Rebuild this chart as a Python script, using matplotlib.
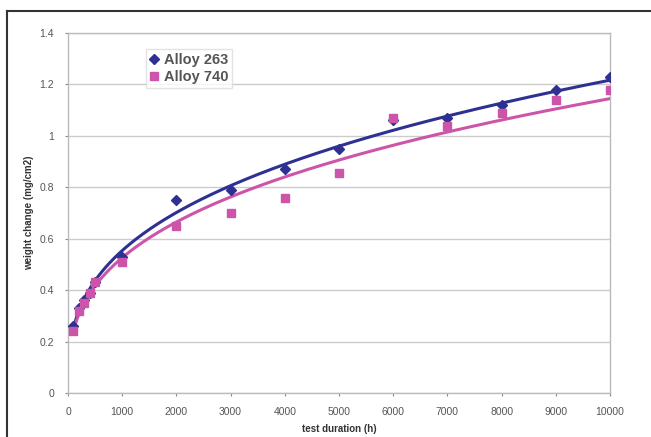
import numpy as np
import matplotlib
matplotlib.use("Agg")
import matplotlib.pyplot as plt
from matplotlib.lines import Line2D

plt.rcParams['font.family'] = ['Liberation Sans', 'DejaVu Sans']

hours = [100, 200, 300, 400, 500, 1000, 2000, 3000, 4000, 5000, 6000, 7000, 8000, 9000, 10000]
alloy263 = [0.26, 0.33, 0.36, 0.39, 0.43, 0.53, 0.75, 0.79, 0.87, 0.95, 1.06, 1.07, 1.12, 1.18, 1.23]
alloy740 = [0.24, 0.32, 0.35, 0.39, 0.43, 0.51, 0.65, 0.70, 0.76, 0.855, 1.07, 1.04, 1.09, 1.14, 1.18]
series_names = ["Alloy 263", "Alloy 740"]
x_ticks = [0, 1000, 2000, 3000, 4000, 5000, 6000, 7000, 8000, 9000, 10000]
y_ticks = [0, 0.2, 0.4, 0.6, 0.8, 1, 1.2, 1.4]
y_tick_labels = ["0", "0.2", "0.4", "0.6", "0.8", "1", "1.2", "1.4"]

blue = '#2E3192'
pink = '#CC55AA'

fig = plt.figure(figsize=(6.51, 4.37), dpi=100)
ax = fig.add_axes([68/651, 44/437, 542/651, 360/437])

x = np.array(hours, dtype=float)
xx = np.linspace(x.min(), x.max(), 300)

for vals, color, marker, ms, name in [(alloy263, blue, 'D', 5, series_names[0]),
                                      (alloy740, pink, 's', 6, series_names[1])]:
    y = np.array(vals)
    b, loga = np.polyfit(np.log(x), np.log(y), 1)
    ax.plot(xx, np.exp(loga) * xx ** b, color=color, lw=2.2, zorder=3)
    ax.plot(x, y, linestyle='none', marker=marker, ms=ms, color=color, mec=color, label=name, zorder=4)

ax.set_xlim(0, 10000)
ax.set_ylim(0, 1.4)
ax.set_xticks(x_ticks)
ax.set_xticklabels([str(t) for t in x_ticks])
ax.set_yticks(y_ticks)
ax.set_yticklabels(y_tick_labels)
ax.yaxis.grid(True, color='#CCCCCC', lw=1)
ax.set_axisbelow(True)
for s in ax.spines.values():
    s.set_color('#BBBBBB')
    s.set_linewidth(1)
ax.tick_params(axis='both', labelsize=7.5, colors='#888888', length=2, width=0.8)
ax.tick_params(axis='x', pad=8)
ax.tick_params(axis='y', pad=8)
for lab in ax.get_xticklabels() + ax.get_yticklabels():
    lab.set_color('#555555')

ax.set_xlabel("test duration (h)", fontsize=7, fontweight='bold', color='#333333', labelpad=5)
ax.set_ylabel("weight change (mg/cm2)", fontsize=7, fontweight='bold', color='#333333', labelpad=4)

leg = ax.legend(loc='upper left', bbox_to_anchor=(0.143, 0.955), fontsize=10.5, frameon=True,
                fancybox=False, edgecolor='#DDDDDD', handlelength=0.7, handletextpad=0.3,
                borderpad=0.25, labelspacing=0.25, borderaxespad=0, markerscale=1.0)
for t in leg.get_texts():
    t.set_color('#555555')
    t.set_fontweight('bold')

# outer frame (cropped chart border)
fig.add_artist(Line2D([7/651, 7/651], [0, 1 - 11/437], transform=fig.transFigure, color='#333333', lw=1.5))
fig.add_artist(Line2D([7/651, 1], [1 - 11/437, 1 - 11/437], transform=fig.transFigure, color='#333333', lw=1.5))

fig.savefig("out.png", dpi=100)
